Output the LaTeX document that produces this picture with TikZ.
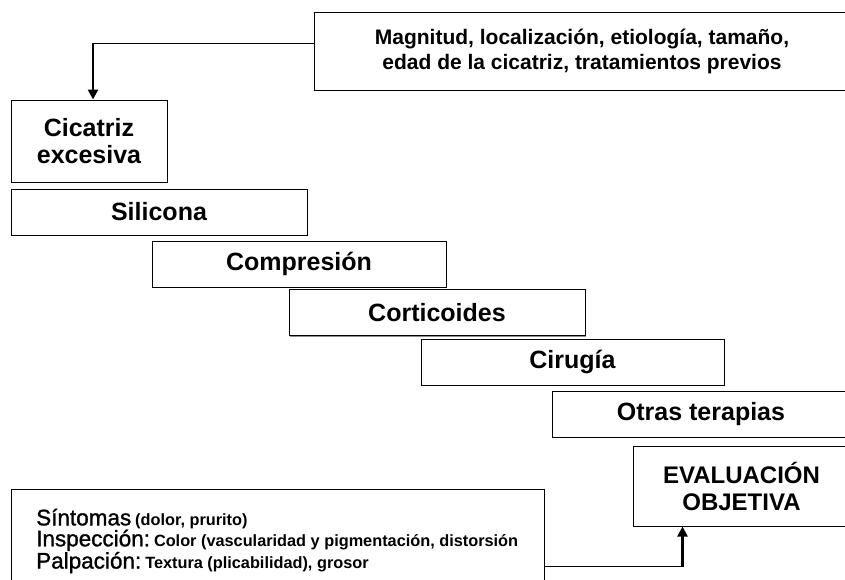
\documentclass[tikz,border=0pt]{standalone}
\usepackage{fontspec}
\setmainfont{Liberation Sans}
\newfontfamily\medfont[FakeBold=1.2]{Liberation Sans}
\usetikzlibrary{arrows.meta,calc,shadows}
\newcommand\BigWord[1]{{\medfont\fontsize{22.5}{21}\selectfont #1}}
\newcommand\SmallBold[1]{{\fontsize{16.3}{21}\selectfont\bfseries #1}}
\begin{document}
\begin{tikzpicture}[x=1pt,y=-1pt,
  box/.style={draw=black, line width=1pt, fill=white,
    drop shadow={shadow xshift=1.3pt, shadow yshift=-1.3pt, fill=black!45, opacity=1}},
  stepbox/.style={box, minimum height=46pt, inner sep=0pt,
    font=\fontsize{25}{27}\selectfont\bfseries},
  thinline/.style={line width=0.9pt},
  arr/.style={line width=2.4pt, -{Triangle[length=10pt,width=10pt]}},
]
\path[use as bounding box, clip] (0,0) rectangle (845,579);
\fill[white] (0,0) rectangle (845,579);

% top box
\node[box, minimum width=536pt, minimum height=78pt, inner sep=0pt, align=center,
  font=\fontsize{21}{25}\selectfont\bfseries] (topbox) at (582,51)
  {Magnitud, localización, etiología, tamaño,\\edad de la cicatriz, tratamientos previos};

% first box
\node[box, minimum width=156pt, minimum height=82pt, inner sep=0pt, align=center,
  font=\fontsize{25}{27}\selectfont\bfseries] (cic) at (89,141) {Cicatriz\\excesiva};

% steps
\node[stepbox, minimum width=296pt] (sil)   at (159,212) {Silicona};
\node[stepbox, minimum width=294pt] (comp)  at (299,264) {Compresión};
\node[stepbox, minimum width=296pt] (cort)  at (437,312.5) {Corticoides};
\node[stepbox, minimum width=303pt] (cir)   at (572.5,362) {Cirugía};
\node[stepbox, minimum width=298pt] (otras) at (701,414) {Otras terapias};

% evaluation
\node[box, minimum width=217pt, minimum height=80pt, inner sep=0pt, align=center,
  font=\fontsize{24}{27}\selectfont\bfseries] (evalb) at (741.5,486) {EVALUACIÓN\\OBJETIVA};

% bottom box
\node[box, minimum width=533pt, minimum height=111pt, inner sep=0pt] (botbox) at (277.5,544.5) {};
\node[anchor=west, align=left, inner sep=0pt] (btxt) at (36,541)
  {\BigWord{Síntomas}\hspace{4pt}\SmallBold{(dolor, prurito)}\\
   \BigWord{Inspección:}\hspace{4pt}\SmallBold{Color (vascularidad y pigmentación, distorsión}\\
   \BigWord{Palpación:}\hspace{4pt}\SmallBold{Textura (plicabilidad), grosor}};

% connectors
\coordinate (a1) at ($(topbox.north west)!0.4!(topbox.south west)$);
\coordinate (a2) at ($(cic.north)+(4,0)$);
\draw[thinline] (a1) -- (a1 -| a2);
\draw[arr] (a1 -| a2) -- (a2);

\coordinate (b1) at ($(botbox.north east)+(0,78)$);
\coordinate (b2) at ($(evalb.south west)+(50,0)$);
\draw[thinline] (b1) -- (b1 -| b2);
\draw[arr] (b1 -| b2) -- (b2);
\end{tikzpicture}
\end{document}
